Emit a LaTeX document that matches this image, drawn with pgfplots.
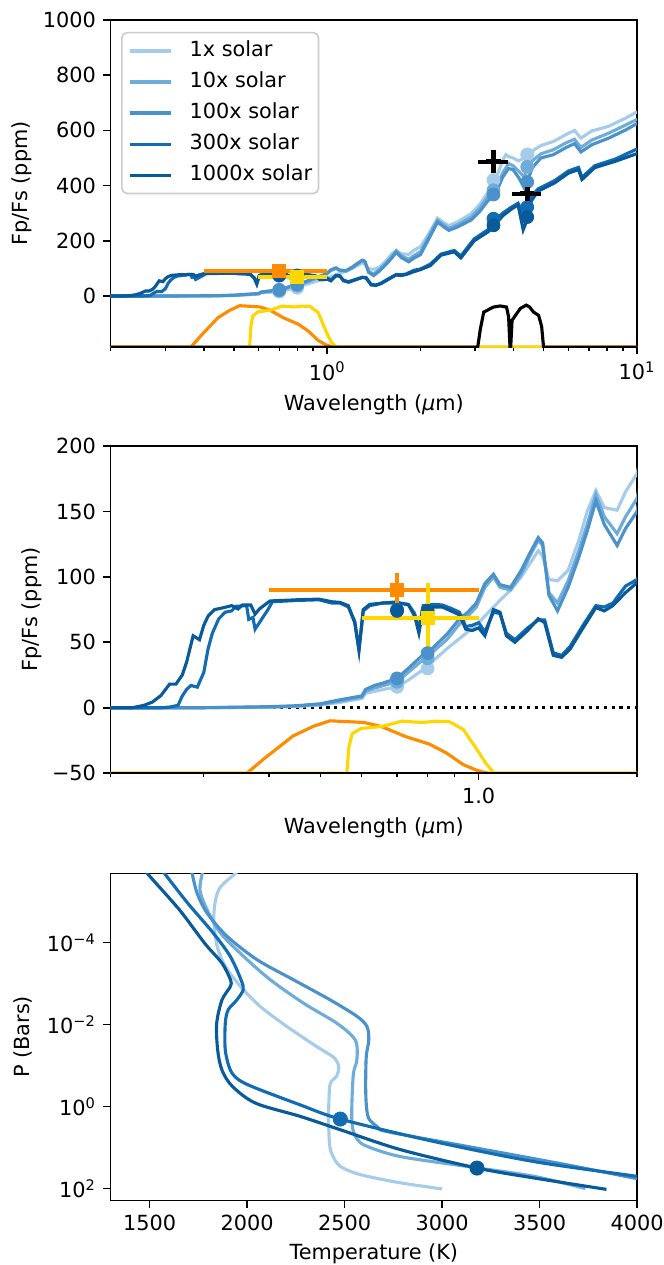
\documentclass[border=0pt]{standalone}
\usepackage{pgfplots}
\pgfplotsset{compat=1.18}
\usepackage{pgfplotstable}
\usepackage{fontspec}
\setmainfont{DejaVu Sans}

\definecolor{cA}{RGB}{165,205,235}
\definecolor{cB}{RGB}{110,172,218}
\definecolor{cC}{RGB}{75,146,202}
\definecolor{cD}{RGB}{18,108,178}
\definecolor{cE}{RGB}{8,90,155}
\definecolor{corange}{RGB}{255,140,0}
\definecolor{cgold}{RGB}{255,215,0}

% ---------- model spectra (wavelength um, Fp/Fs ppm) ----------
\pgfplotstableread{
x y
0.2 0
0.3 0
0.4 0.3
0.45 1
0.5 2
0.545 4
0.58 6
0.60 7
0.61 11
0.634 12.5
0.66 14
0.70 16
0.735 21
0.79 30
0.87 45
0.954 58
1.0 65
1.05 74
1.098 82
1.15 90
1.205 100
1.25 110
1.298 120
1.323 116
1.36 98
1.412 97
1.479 105
1.55 128
1.608 150
1.67 166
1.733 153
1.833 151
1.902 165
2.0 179
2.1 215
2.27 282
2.38 265
2.47 255
2.63 268
2.91 298
3.1 330
3.3 375
3.49 420
3.68 490
3.77 512
3.85 505
3.98 500
4.13 490
4.30 498
4.42 513
4.59 525
4.89 545
5.37 560
5.9 585
6.28 600
6.59 572
7.14 598
8.1 615
9.2 645
10 667
}\mA

\pgfplotstableread{
x y
0.2 0
0.3 0
0.4 0.5
0.45 1.2
0.5 2.5
0.545 5
0.58 7
0.60 8
0.61 12.5
0.634 15
0.66 17
0.70 19.8
0.735 27
0.79 37.8
0.82 43
0.87 52
0.92 64
0.954 70
0.99 77
1.028 92
1.067 100
1.098 92
1.15 90
1.205 102
1.251 116
1.298 128
1.323 124
1.36 88
1.412 80
1.479 97
1.55 120
1.608 140
1.67 163
1.733 146
1.833 133
1.902 146
2.0 160
2.1 205
2.27 275
2.38 258
2.47 245
2.63 258
2.91 285
3.1 318
3.3 360
3.49 383
3.68 445
3.85 480
3.98 472
4.17 450
4.33 430
4.42 468
4.59 490
4.89 515
5.37 530
5.9 555
6.28 568
6.59 538
7.14 565
8.1 590
9.2 620
10 640
}\mB

\pgfplotstableread{
x y
0.2 0
0.3 0
0.4 0.8
0.45 1.5
0.5 3
0.545 6
0.58 8
0.60 9
0.61 14
0.634 17
0.66 19
0.70 22.4
0.735 30
0.79 41.7
0.82 46
0.87 56
0.92 68
0.954 73
0.99 80
1.028 95
1.067 102
1.098 94
1.15 92
1.205 105
1.251 118
1.298 130
1.323 126
1.36 86
1.412 74
1.479 92
1.55 115
1.608 135
1.67 158
1.733 140
1.833 124
1.902 137
2.0 150
2.1 195
2.27 268
2.38 250
2.47 238
2.63 250
2.91 275
3.1 305
3.3 345
3.49 368
3.68 430
3.85 462
3.98 458
4.17 425
4.33 390
4.42 413
4.59 465
4.89 500
5.37 512
5.9 538
6.28 552
6.59 522
7.14 548
8.1 572
9.2 602
10 625
}\mC

\pgfplotstableread{
x y
0.2 0
0.25 0
0.2588 0.5
0.2686 1.8
0.2736 9
0.2789 14
0.2842 17
0.2922 15.7
0.3006 27
0.3063 45
0.3121 57
0.3210 68
0.3301 73
0.3396 74
0.3460 77.5
0.3626 78
0.3659 67.5
0.3727 69
0.3762 60
0.3870 67.5
0.3982 75
0.4058 81
0.4530 82
0.4973 82.5
0.5258 80
0.5453 80
0.5656 77
0.5817 66
0.5926 45
0.6038 74
0.6211 78
0.6575 80
0.6956 80
0.7355 79
0.7561 72
0.7703 60
0.7847 78
0.8220 79
0.8533 78.5
0.8858 76
0.9195 73
0.9456 62
0.9724 63
1.0 65
1.028 58
1.067 73
1.098 72
1.129 57
1.172 52
1.239 61
1.298 67
1.335 67
1.386 42
1.438 40
1.493 47
1.579 63
1.670 78
1.733 77
1.799 80
1.902 93
2.0 98
2.15 115
2.33 152
2.57 165
2.70 145
2.98 207
3.3 240
3.49 275
3.68 300
3.93 322
4.13 336
4.29 299
4.45 310
4.56 360
4.79 388
5.42 418
6.0 453
6.47 466
6.64 430
7.3 472
8.5 496
10 533
}\mD

\pgfplotstableread{
x y
0.2 0
0.22 0
0.2313 1.8
0.2401 4.3
0.2493 9.4
0.2588 18
0.2661 18
0.2736 25
0.2789 35
0.2869 55
0.2950 52
0.3006 63
0.3063 70
0.3150 75
0.3240 76
0.3396 78
0.3492 75.5
0.3558 78.5
0.3693 78.5
0.3762 71.5
0.3834 75.5
0.4015 81.6
0.4530 82.5
0.4973 83
0.5258 81
0.5453 80.5
0.5656 78
0.5817 65
0.5926 43.6
0.6038 75
0.6211 79
0.6575 80
0.6956 80.8
0.7355 78.7
0.7561 70
0.7703 57
0.7847 76
0.8220 77
0.8533 77
0.8858 74
0.9195 71
0.9456 60
0.9724 59
1.0 61
1.028 55
1.067 75
1.098 73
1.129 55
1.172 50
1.239 59
1.298 68
1.335 65
1.386 40
1.438 38.5
1.493 45
1.579 61
1.670 76.5
1.733 74
1.799 78
1.902 88
2.0 95.6
2.15 110
2.33 148
2.57 160
2.70 138
2.98 200
3.3 232
3.49 260
3.68 290
3.93 315
4.13 330
4.29 240
4.45 285
4.56 345
4.79 380
5.42 410
6.0 445
6.47 458
6.64 422
7.3 465
8.5 488
10 516
}\mE

% ---------- filter curves ----------
\pgfplotstableread{
x y
0.2 -185
0.363 -185
0.393 -141.5
0.444 -78.5
0.485 -51.5
0.522 -35
0.606 -39.5
0.654 -51.5
0.726 -80
0.806 -101.8
0.868 -126.5
0.935 -161
0.991 -176.8
1.04 -185
10 -185
}\chA

\pgfplotstableread{
x y
0.2 -185
0.562 -185
0.567 -110
0.575 -72.5
0.597 -57.5
0.654 -51.5
0.715 -36.5
0.782 -39.5
0.83 -36.5
0.881 -38
0.935 -60
0.993 -130
1.03 -167
1.07 -185
10 -185
}\tsA

\pgfplotstableread{
x y
0.2 -185
3.06 -185
3.12 -120
3.20 -58
3.28 -52
3.44 -40
3.62 -36
3.79 -40
3.85 -76
3.89 -185
3.91 -185
3.95 -88
4.05 -70
4.20 -45
4.39 -33
4.50 -40
4.63 -58
4.81 -70
4.92 -110
4.99 -185
10 -185
}\spA

\pgfplotstableread{
x y
0.2 -50
0.363 -50
0.393 -38.4
0.444 -21.6
0.485 -14.3
0.522 -10
0.606 -11.3
0.654 -14.4
0.726 -22
0.806 -27.8
0.868 -34.5
0.935 -43.5
0.991 -47.8
1.04 -50
10 -50
}\chB

\pgfplotstableread{
x y
0.2 -50
0.562 -50
0.567 -30
0.575 -20
0.597 -15.9
0.654 -14.4
0.715 -10.3
0.782 -11.3
0.83 -10.3
0.881 -10.8
0.935 -16.6
0.993 -32
1.03 -42
1.07 -50
10 -50
}\tsB

% ---------- P-T profiles (T in K, log10 P in bar) ----------
\pgfplotstableread{
x y
1960 -5.80
1940 -5.69
1864 -5.36
1838 -5.04
1829 -4.55
1847 -3.90
1890 -3.41
1966 -2.93
2068 -2.44
2205 -1.95
2358 -1.46
2444 -1.20
2470 -0.98
2460 -0.75
2427 -0.57
2420 -0.2
2418 0.24
2420 0.7
2427 1.05
2450 1.30
2478 1.46
2540 1.60
2615 1.70
2786 1.86
3000 2.01
}\pA

\pgfplotstableread{
x y
1772 -5.80
1770 -5.69
1758 -5.28
1795 -4.80
1864 -4.23
1983 -3.66
2120 -3.09
2290 -2.52
2461 -2.03
2555 -1.62
2563 -1.14
2545 -0.80
2537 0.0
2540 0.50
2565 0.80
2615 0.97
2786 1.22
3127 1.46
3469 1.70
3735 2.00
}\pB

\pgfplotstableread{
x y
1715 -5.80
1718 -5.69
1744 -5.20
1795 -4.72
1898 -4.15
2052 -3.58
2239 -3.09
2427 -2.60
2564 -2.20
2615 -1.95
2624 -1.62
2611 -1.22
2608 -0.5
2612 0.0
2625 0.30
2670 0.50
2717 0.61
3127 0.97
3639 1.42
3981 1.74
4050 1.79
}\pC

\pgfplotstableread{
x y
1560 -5.80
1576 -5.69
1696 -4.96
1827 -4.23
1914 -3.66
1969 -3.09
1980 -2.85
1947 -2.60
1903 -2.36
1888 -2.03
1888 -1.38
1914 -0.89
1958 -0.65
2045 -0.45
2273 -0.04
2478 0.305
2956 0.85
3469 1.34
3981 1.69
4050 1.74
}\pD

\pgfplotstableread{
x y
1480 -5.80
1488 -5.69
1653 -4.80
1783 -3.98
1871 -3.50
1915 -3.09
1914 -2.93
1871 -2.60
1844 -2.03
1849 -1.38
1871 -0.89
1925 -0.49
2045 -0.08
2273 0.24
2481 0.57
2786 1.05
3179 1.50
3469 1.74
3843 2.02
}\pE

\pgfplotsset{
  myax/.style={
    scale only axis, width=252.7pt, height=157pt,
    tick align=outside, tick pos=left,
    major tick length=3.5pt, minor tick length=2pt,
    tick style={black, line width=0.8pt},
    minor tick style={line width=0.6pt},
    axis line style={line width=0.8pt},
    scaled ticks=false,
    /pgf/number format/assume math mode=true,
    /pgf/number format/1000 sep={},
    tick label style={font=\fontsize{10}{12}\selectfont},
    label style={font=\fontsize{10}{12}\selectfont},
  },
  mline/.style={line width=1.5pt},
}

\begin{document}
\begin{tikzpicture}
\path[use as bounding box] (-53.1pt,9.6pt) rectangle (265.6pt,-597.6pt);

% ================= Panel 1 =================
\begin{axis}[myax, at={(0pt,0pt)}, anchor=north west,
  xmode=log, xmin=0.2, xmax=10, ymin=-185, ymax=1000,
  xtick={1,10}, xticklabels={10\textsuperscript{0},10\textsuperscript{1}},
  minor xtick={0.2,0.3,0.4,0.5,0.6,0.7,0.8,0.9,2,3,4,5,6,7,8,9},
  ytick={0,200,400,600,800,1000}, yticklabels={0,200,400,600,800,1000},
  xlabel={Wavelength ({\itshape μ}m)}, ylabel={Fp/Fs (ppm)},
  xlabel style={at={(axis description cs:0.5,-0.175)}, anchor=center},
  ylabel style={at={(axis description cs:-0.169,0.5)}, anchor=center},
  legend cell align=left,
  legend image code/.code={\draw[#1] (0pt,0pt) -- (20pt,0pt);},
  legend style={at={(axis description cs:0.0198,0.964)}, anchor=north west,
    draw=black!20, line width=0.8pt, rounded corners=2.5pt, fill=white,
    fill opacity=0.8, text opacity=1, draw opacity=1,
    font=\fontsize{10}{12}\selectfont, inner xsep=3pt, inner ysep=3.8pt,
    row sep=4.9pt,
    nodes={inner sep=0pt, text height=0.75em, text depth=0.25em},
    /tikz/every odd column/.append style={column sep=8pt}},
]
\addplot[corange, mline, forget plot] table {\chA};
\addplot[cgold, mline, forget plot] table {\tsA};
\addplot[black, mline, forget plot] table {\spA};

\addplot[cA, mline] table {\mA}; \addlegendentry{1x solar}
\addplot[cB, mline] table {\mB}; \addlegendentry{10x solar}
\addplot[cC, mline] table {\mC}; \addlegendentry{100x solar}
\addplot[cD, mline] table {\mD}; \addlegendentry{300x solar}
\addplot[cE, mline] table {\mE}; \addlegendentry{1000x solar}

\addplot[only marks, mark=*, mark size=3.1pt, cA, forget plot] coordinates {(0.7,16) (0.8,30) (3.44,420) (4.42,513)};
\addplot[only marks, mark=*, mark size=3.1pt, cB, forget plot] coordinates {(0.7,19.8) (0.8,37.8) (3.44,383) (4.42,468)};
\addplot[only marks, mark=*, mark size=3.1pt, cC, forget plot] coordinates {(0.7,22.4) (0.8,41.7) (3.44,368) (4.42,413)};
\addplot[only marks, mark=*, mark size=3.1pt, cD, forget plot] coordinates {(0.7,75) (0.8,74) (3.44,280) (4.42,322)};
\addplot[only marks, mark=*, mark size=3.1pt, cE, forget plot] coordinates {(0.7,74) (0.8,74) (3.44,256) (4.42,286)};

\addplot[corange, line width=2pt, forget plot] coordinates {(0.4,90) (1.0,90)};
\addplot[corange, line width=2pt, forget plot] coordinates {(0.7,77) (0.7,103)};
\addplot[only marks, mark=square*, mark size=3.1pt, corange, forget plot] coordinates {(0.7,90)};
\addplot[cgold, line width=2pt, forget plot] coordinates {(0.6,68.5) (1.0,68.5)};
\addplot[cgold, line width=2pt, forget plot] coordinates {(0.8,41.5) (0.8,95.5)};
\addplot[only marks, mark=square*, mark size=3.1pt, cgold, forget plot] coordinates {(0.8,68.5)};

\addplot[black, line width=2pt, forget plot] coordinates {(3.06,486) (3.82,486)};
\addplot[black, line width=2pt, forget plot] coordinates {(3.44,444) (3.44,528)};
\addplot[black, line width=2pt, forget plot] coordinates {(3.95,371) (4.88,371)};
\addplot[black, line width=2pt, forget plot] coordinates {(4.42,347) (4.42,395)};
\addplot[only marks, mark=+, mark size=3.4pt, mark options={line width=2.4pt}, black, forget plot] coordinates {(3.44,486) (4.42,371)};
\end{axis}

% ================= Panel 2 =================
\begin{axis}[myax, at={(0pt,-204.5pt)}, anchor=north west,
  xmode=log, xmin=0.2, xmax=2, ymin=-50, ymax=200,
  xtick={1}, xticklabels={1.0},
  minor xtick={0.2,0.3,0.4,0.5,0.6,0.7,0.8,0.9,2},
  ytick={-50,0,50,100,150,200}, yticklabels={−50,0,50,100,150,200},
  xlabel={Wavelength ({\itshape μ}m)}, ylabel={Fp/Fs (ppm)},
  xlabel style={at={(axis description cs:0.5,-0.167)}, anchor=center},
  ylabel style={at={(axis description cs:-0.149,0.5)}, anchor=center},
]
\addplot[black, line width=1.5pt, dash pattern=on 1.5pt off 2.2pt, forget plot] coordinates {(0.2,0) (2,0)};
\addplot[corange, mline, forget plot] table {\chB};
\addplot[cgold, mline, forget plot] table {\tsB};
\addplot[black, mline, forget plot] coordinates {(0.2,-50) (2,-50)};

\addplot[cA, mline] table {\mA};
\addplot[cB, mline] table {\mB};
\addplot[cC, mline] table {\mC};
\addplot[cD, mline] table {\mD};
\addplot[cE, mline] table {\mE};

\addplot[only marks, mark=*, mark size=3.1pt, cA] coordinates {(0.7,16) (0.8,30)};
\addplot[only marks, mark=*, mark size=3.1pt, cB] coordinates {(0.7,19.8) (0.8,37.8)};
\addplot[only marks, mark=*, mark size=3.1pt, cC] coordinates {(0.7,22.4) (0.8,41.7)};
\addplot[only marks, mark=*, mark size=3.1pt, cD] coordinates {(0.7,75) (0.8,74)};
\addplot[only marks, mark=*, mark size=3.1pt, cE] coordinates {(0.7,74) (0.8,74)};

\addplot[corange, line width=2pt] coordinates {(0.4,90) (1.0,90)};
\addplot[corange, line width=2pt] coordinates {(0.7,77) (0.7,103)};
\addplot[only marks, mark=square*, mark size=3.1pt, corange] coordinates {(0.7,90)};
\addplot[cgold, line width=2pt] coordinates {(0.6,68.5) (1.0,68.5)};
\addplot[cgold, line width=2pt] coordinates {(0.8,41.5) (0.8,95.5)};
\addplot[only marks, mark=square*, mark size=3.1pt, cgold] coordinates {(0.8,68.5)};
\end{axis}

% ================= Panel 3 =================
\begin{axis}[myax, at={(0pt,-409.6pt)}, anchor=north west,
  xmin=1300, xmax=4000, ymin=-5.69, ymax=2.29, y dir=reverse,
  xtick={1500,2000,2500,3000,3500,4000},
  xticklabels={1500,2000,2500,3000,3500,4000},
  ytick={-4,-2,0,2},
  yticklabels={10\textsuperscript{−4},10\textsuperscript{−2},10\textsuperscript{0},10\textsuperscript{2}},
  minor xtick={}, minor ytick={},
  xlabel={Temperature (K)}, ylabel={P (Bars)},
  xlabel style={at={(axis description cs:0.5,-0.164)}, anchor=center},
  ylabel style={at={(axis description cs:-0.166,0.5)}, anchor=center},
]
\addplot[cA, mline, smooth] table {\pA};
\addplot[cB, mline, smooth] table {\pB};
\addplot[cC, mline, smooth] table {\pC};
\addplot[cD, mline, smooth] table {\pD};
\addplot[cE, mline, smooth] table {\pE};
\addplot[only marks, mark=*, mark size=3.4pt, cD] coordinates {(2478,0.305)};
\addplot[only marks, mark=*, mark size=3.4pt, cE] coordinates {(3179,1.50)};
\end{axis}
\end{tikzpicture}
\end{document}
